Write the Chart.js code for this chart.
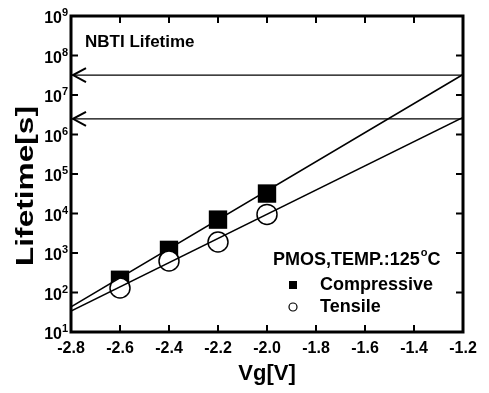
<!DOCTYPE html>
<html lang="en">
<head>
<meta charset="UTF-8" />
<title>NBTI Lifetime</title>
<script src="https://cdn.jsdelivr.net/npm/chart.js"></script>
<style>
  body { margin: 0; background: #fff; }
</style>
</head>
<body>
<canvas id="lifetimeChart" width="489" height="393"></canvas>
<script>
// values
const vg = [-2.6, -2.4, -2.2, -2.0];
const compressive = [210, 1200, 7000, 32000];
const tensile = [130, 630, 1900, 9500];
const fitVg = [-2.8, -1.2];
const fitCompressive = [43, 3.3e7];
const fitTensile = [34, 2.7e6];
const targetLifetimes = [3.2e7, 2.5e6];
const xTicks = [-2.8, -2.6, -2.4, -2.2, -2.0, -1.8, -1.6, -1.4, -1.2];
const xTickLabels = ["-2.8", "-2.6", "-2.4", "-2.2", "-2.0", "-1.8", "-1.6", "-1.4", "-1.2"];
const yTicks = [1e1, 1e2, 1e3, 1e4, 1e5, 1e6, 1e7, 1e8, 1e9];

const FONT = '"Liberation Sans", Arial, sans-serif';

function pts(xs, ys) {
  return xs.map((x, i) => ({ x: x, y: ys[i] }));
}

// frame, inward ticks, y labels with superscripts, arrows, notes and legend
const decorations = {
  id: "decorations",
  afterDraw(chart) {
    const { ctx, chartArea: a, scales } = chart;
    const x = scales.x, y = scales.y;
    ctx.save();
    ctx.strokeStyle = "#000";
    ctx.fillStyle = "#000";

    ctx.lineWidth = 3;
    ctx.strokeRect(a.left, a.top, a.right - a.left, a.bottom - a.top);

    ctx.lineWidth = 2;
    ctx.beginPath();
    x.ticks.forEach((t) => {
      const px = x.getPixelForValue(t.value);
      ctx.moveTo(px, a.bottom); ctx.lineTo(px, a.bottom - 7);
      ctx.moveTo(px, a.top); ctx.lineTo(px, a.top + 7);
    });
    y.ticks.forEach((t) => {
      const py = y.getPixelForValue(t.value);
      ctx.moveTo(a.left, py); ctx.lineTo(a.left + 7, py);
      ctx.moveTo(a.right, py); ctx.lineTo(a.right - 7, py);
    });
    ctx.stroke();

    // 10^n labels
    ctx.textBaseline = "middle";
    y.ticks.forEach((t) => {
      const py = y.getPixelForValue(t.value) + 3;
      ctx.font = "bold 16px " + FONT;
      ctx.textAlign = "right";
      ctx.fillText("10", a.left - 9, py);
      ctx.font = "bold 11px " + FONT;
      ctx.textAlign = "left";
      ctx.fillText(String(Math.round(Math.log10(t.value))), a.left - 9, py - 6);
    });

    // y title, stretched like the scan
    ctx.save();
    ctx.translate(33, 186);
    ctx.rotate(-Math.PI / 2);
    ctx.font = "bold 23px " + FONT;
    const tw = ctx.measureText("Lifetime[s]").width;
    ctx.scale(160 / tw, 1);
    ctx.textAlign = "center";
    ctx.textBaseline = "alphabetic";
    ctx.fillText("Lifetime[s]", 0, 0);
    ctx.restore();

    // arrow heads on the left axis
    ctx.lineWidth = 2;
    targetLifetimes.forEach((v) => {
      const py = y.getPixelForValue(v);
      ctx.beginPath();
      ctx.moveTo(a.left + 15, py - 7);
      ctx.lineTo(a.left + 2, py);
      ctx.lineTo(a.left + 15, py + 7);
      ctx.stroke();
    });

    ctx.textAlign = "left";
    ctx.textBaseline = "middle";
    ctx.font = "bold 17px " + FONT;
    ctx.fillText("NBTI Lifetime", a.left + 14, 42);

    // legend
    const lx = 273;
    ctx.font = "bold 18px " + FONT;
    const head = "PMOS,TEMP.:125";
    ctx.fillText(head, lx, 260);
    let w = ctx.measureText(head).width;
    ctx.font = "bold 11px " + FONT;
    ctx.fillText("o", lx + w + 1, 253);
    w += ctx.measureText("o").width + 1;
    ctx.font = "bold 18px " + FONT;
    ctx.fillText("C", lx + w, 260);

    ctx.fillText(chart.data.datasets[0].label, 320, 285);
    ctx.fillText(chart.data.datasets[1].label, 320, 307);
    ctx.fillRect(289, 281, 8, 8);
    ctx.lineWidth = 1.2;
    ctx.beginPath();
    ctx.arc(293, 307, 4, 0, Math.PI * 2);
    ctx.stroke();
    ctx.restore();
  },
};

new Chart(document.getElementById("lifetimeChart"), {
  type: "scatter",
  data: {
    datasets: [
      {
        label: "Compressive",
        data: pts(vg, compressive),
        pointStyle: "rect",
        pointRadius: 13,
        backgroundColor: "#000",
        borderColor: "#000",
        borderWidth: 0,
        order: 3,
      },
      {
        label: "Tensile",
        data: pts(vg, tensile),
        pointStyle: "circle",
        pointRadius: 10,
        backgroundColor: "#fff",
        borderColor: "#000",
        borderWidth: 1.5,
        order: 2,
      },
      {
        label: "Compressive fit",
        data: pts(fitVg, fitCompressive),
        showLine: true,
        pointRadius: 0,
        borderColor: "#000",
        borderWidth: 1.5,
        order: 1,
      },
      {
        label: "Tensile fit",
        data: pts(fitVg, fitTensile),
        showLine: true,
        pointRadius: 0,
        borderColor: "#000",
        borderWidth: 1.5,
        order: 1,
      },
      {
        label: "Target 1",
        data: pts(fitVg, [targetLifetimes[0], targetLifetimes[0]]),
        showLine: true,
        pointRadius: 0,
        borderColor: "#000",
        borderWidth: 1.2,
        order: 4,
      },
      {
        label: "Target 2",
        data: pts(fitVg, [targetLifetimes[1], targetLifetimes[1]]),
        showLine: true,
        pointRadius: 0,
        borderColor: "#000",
        borderWidth: 1.2,
        order: 4,
      },
    ],
  },
  options: {
    responsive: false,
    animation: false,
    layout: { padding: { top: 16, right: 26, left: 0, bottom: 0 } },
    plugins: { legend: { display: false }, tooltip: { enabled: false } },
    scales: {
      x: {
        type: "linear",
        min: -2.8,
        max: -1.2,
        afterBuildTicks: (s) => { s.ticks = xTicks.map((v) => ({ value: v })); },
        afterFit: (s) => { s.height = 61; },
        grid: { display: false, drawTicks: false },
        border: { display: false },
        ticks: {
          color: "#000",
          font: { family: FONT, size: 16, weight: "bold" },
          padding: 7,
          maxRotation: 0,
          autoSkip: false,
          callback: (v, i) => xTickLabels[i],
        },
        title: {
          display: true,
          text: "Vg[V]",
          color: "#000",
          font: { family: FONT, size: 22, weight: "bold" },
          padding: { top: 0, bottom: 6 },
        },
      },
      y: {
        type: "logarithmic",
        min: 10,
        max: 1e9,
        afterBuildTicks: (s) => { s.ticks = yTicks.map((v) => ({ value: v })); },
        afterFit: (s) => { s.width = 71; },
        grid: { display: false, drawTicks: false },
        border: { display: false },
        ticks: { display: false },
      },
    },
  },
  plugins: [decorations],
});
</script>
</body>
</html>
